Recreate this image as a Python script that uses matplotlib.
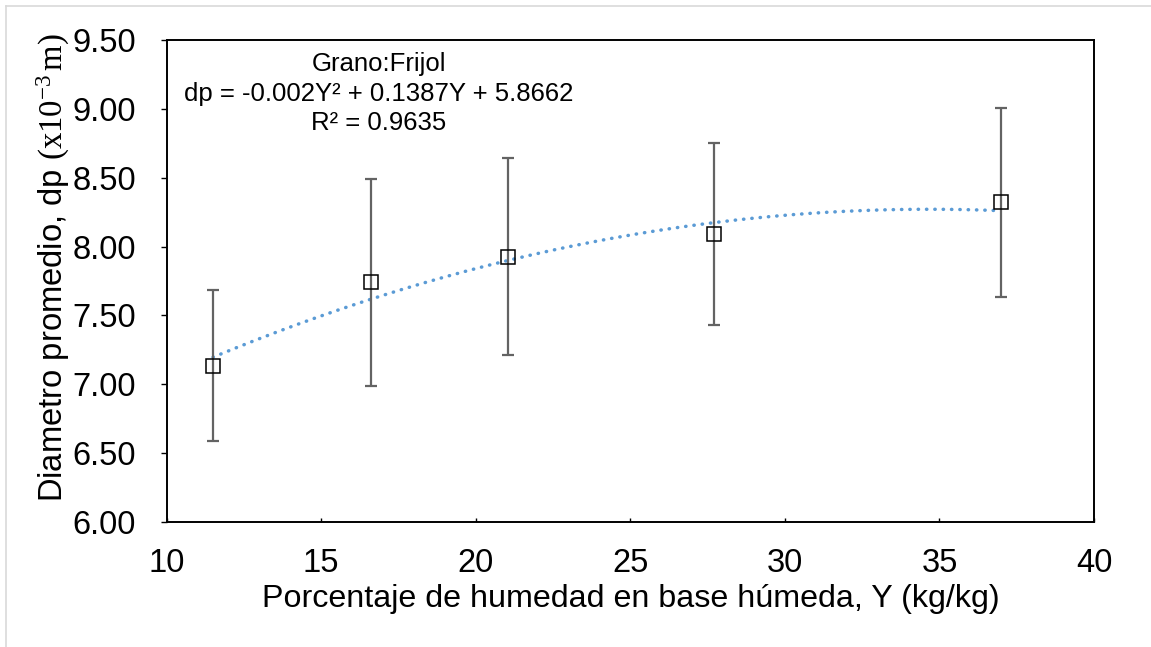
import numpy as np
import matplotlib
matplotlib.use("Agg")
import matplotlib.pyplot as plt
from matplotlib.lines import Line2D

plt.rcParams['font.family'] = ['Liberation Sans', 'DejaVu Sans']
plt.rcParams['mathtext.fontset'] = 'custom'
plt.rcParams['mathtext.rm'] = 'Liberation Serif'
plt.rcParams['mathtext.it'] = 'Liberation Serif:italic'

# data
humedad = [11.5, 16.6, 21.03, 27.7, 37.0]
diametro = [7.135, 7.741, 7.927, 8.094, 8.322]
error = [0.55, 0.75, 0.715, 0.66, 0.685]
coef = [-0.002, 0.1387, 5.8662]
xticks = [10, 15, 20, 25, 30, 35, 40]
yticks = [6.00, 6.50, 7.00, 7.50, 8.00, 8.50, 9.00, 9.50]

fig = plt.figure(figsize=(11.51, 6.47), dpi=100)
ax = fig.add_axes([0.1448, 0.1932, 0.8057, 0.745])

# outer light border
fig.add_artist(Line2D([6/1151, 1.0], [1-6/647, 1-6/647], color='#d9d9d9', lw=1.2, transform=fig.transFigure))
fig.add_artist(Line2D([6/1151, 6/1151], [0, 1-6/647], color='#d9d9d9', lw=1.2, transform=fig.transFigure))

# trendline
xs = np.linspace(min(humedad), max(humedad), 300)
ax.plot(xs, np.polyval(coef, xs), color='#5B9BD5', lw=2.5,
        linestyle=(0, (0.1, 2.3)), dash_capstyle='round', zorder=2)

ax.errorbar(humedad, diametro, yerr=error, fmt='none', ecolor='#636363',
            elinewidth=1.6, capsize=4.5, capthick=1.6, zorder=3)
ax.plot(humedad, diametro, linestyle='none', marker='s', markersize=9.5,
        markerfacecolor='none', markeredgecolor='black', markeredgewidth=1.1, zorder=4)

ax.set_xlim(10, 40)
ax.set_ylim(6.0, 9.5)
ax.set_xticks(xticks)
ax.set_yticks(yticks)
ax.set_xticklabels([str(t) for t in xticks])
ax.set_yticklabels([f"{t:.2f}" for t in yticks])
ax.tick_params(axis='x', direction='in', length=3, width=1, pad=19, labelsize=23.5)
ax.tick_params(axis='y', direction='out', length=4, width=1, pad=18, labelsize=23.5)
for s in ax.spines.values():
    s.set_linewidth(1.4)

ax.set_xlabel("Porcentaje de humedad en base húmeda, Y (kg/kg)", fontsize=23.2, labelpad=3)
ax.set_ylabel(r"Diametro promedio, dp $\mathrm{(x10^{-3}\,m)}$", fontsize=23.6)
ax.yaxis.set_label_coords(-0.102, 0.527)

ax.text(0.229, 0.975, "Grano:Frijol\ndp = -0.002Y² + 0.1387Y + 5.8662\nR² = 0.9635",
        transform=ax.transAxes, ha='center', va='top', fontsize=18.5,
        linespacing=1.3)

fig.savefig("out.png", dpi=100)
